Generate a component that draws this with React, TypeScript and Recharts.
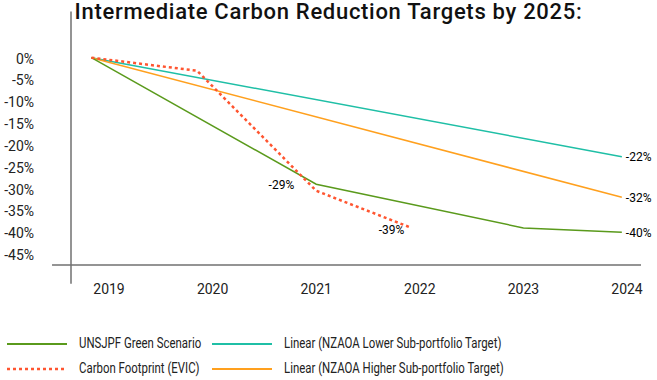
import { LineChart, Line, XAxis, YAxis, ReferenceLine, LabelList } from "recharts"

document.body.style.margin = "0"

// x positions of the plotted points (fractional years, as drawn in the source)
const pointYears = [2018.83, 2019.85, 2021.0, 2021.92, 2023.0, 2023.95]
const yearTicks = [2019, 2020, 2021, 2022, 2023, 2024]
const percentTicks = [0, -5, -10, -15, -20, -25, -30, -35, -40, -45]

const greenScenario = [0, null, -29, null, -39, -40]
const carbonFootprint = [0, -3, -30.5, -39, null, null]
const lowerTarget = [0, null, null, null, null, -22.7]
const higherTarget = [0, null, null, null, null, -32]

const greenLeftLabels = ["", "", "-29%", "", "", ""]
const greenRightLabels = ["", "", "", "", "", "-40%"]
const footprintLabels = ["", "", "", "-39%", "", ""]
const lowerLabels = ["", "", "", "", "", "-22%"]
const higherLabels = ["", "", "", "", "", "-32%"]

const data = pointYears.map((year, i) => ({
  year,
  green: greenScenario[i],
  footprint: carbonFootprint[i],
  lower: lowerTarget[i],
  higher: higherTarget[i],
  greenLeft: greenLeftLabels[i],
  greenRight: greenRightLabels[i],
  footprintLabel: footprintLabels[i],
  lowerLabel: lowerLabels[i],
  higherLabel: higherLabels[i],
}))

const GREEN = "#5a9a1c"
const TEAL = "#1fbfa6"
const ORANGE = "#ffa01e"
const RED = "#ff5530"
const AXIS = "#707070"

const legendItems = [
  { name: "UNSJPF Green Scenario", color: GREEN, dashed: false },
  { name: "Linear (NZAOA Lower Sub-portfolio Target)", color: TEAL, dashed: false },
  { name: "Carbon Footprint (EVIC)", color: RED, dashed: true },
  { name: "Linear (NZAOA Higher Sub-portfolio Target)", color: ORANGE, dashed: false },
]

function ChartLegend() {
  return (
    <div
      style={{
        position: "absolute",
        left: 7,
        top: 331,
        display: "grid",
        gridTemplateColumns: "205px 430px",
        fontFamily: "Roboto",
        fontSize: 14,
        lineHeight: "25px",
        color: "#222",
        whiteSpace: "nowrap",
      }}
    >
      {legendItems.map((item) => (
        <div key={item.name} style={{ display: "flex", alignItems: "center", height: 25 }}>
          <svg width={72} height={10} style={{ flex: "none" }}>
            <line
              x1={0}
              y1={5}
              x2={60}
              y2={5}
              stroke={item.color}
              strokeWidth={item.dashed ? 2.5 : 2}
              strokeDasharray={item.dashed ? "3 3" : undefined}
            />
          </svg>
          <span style={{ display: "inline-block", transform: "scaleX(0.815)", transformOrigin: "left center" }}>
            {item.name}
          </span>
        </div>
      ))}
    </div>
  )
}

const labelStyle = { fontFamily: "Roboto", fontSize: 12, fill: "#000" }

export default function App() {
  return (
    <div style={{ position: "relative", width: 657, height: 380, background: "#fff" }}>
      <LineChart
        width={657}
        height={380}
        data={data}
        margin={{ top: 14, right: 16, bottom: 0, left: 0 }}
        style={{ position: "absolute", top: 0, left: 0 }}
      >
        <XAxis
          type="number"
          dataKey="year"
          domain={[2018.633, 2024.135]}
          ticks={yearTicks}
          allowDataOverflow
          axisLine={false}
          tickLine={false}
          tickSize={0}
          tickMargin={19}
          tick={{ fontFamily: "Roboto", fontSize: 14, fill: "#222" }}
          height={115}
        />
        <YAxis
          type="number"
          domain={[-47.5, 10]}
          ticks={percentTicks}
          allowDataOverflow
          axisLine={false}
          tickLine={false}
          tickSize={0}
          tickMargin={37}
          width={71}
          tickFormatter={(v) => `${v}%`}
          tick={{ fontFamily: "Roboto", fontSize: 14, fill: "#222", dy: 1 }}
        />
        <ReferenceLine
          segment={[{ x: 2018.633, y: 10.6 }, { x: 2018.633, y: -51.8 }]}
          stroke={AXIS}
          strokeWidth={1.5}
          ifOverflow="visible"
        />
        <ReferenceLine
          segment={[{ x: 2018.45, y: -47.5 }, { x: 2024.135, y: -47.5 }]}
          stroke={AXIS}
          strokeWidth={1.5}
          ifOverflow="visible"
        />
        <Line
          dataKey="lower"
          stroke={TEAL}
          strokeWidth={1.5}
          dot={false}
          connectNulls
          isAnimationActive={false}
        >
          <LabelList dataKey="lowerLabel" position="right" offset={4} style={labelStyle} />
        </Line>
        <Line
          dataKey="higher"
          stroke={ORANGE}
          strokeWidth={1.5}
          dot={false}
          connectNulls
          isAnimationActive={false}
        >
          <LabelList dataKey="higherLabel" position="right" offset={4} style={labelStyle} />
        </Line>
        <Line
          dataKey="green"
          stroke={GREEN}
          strokeWidth={1.5}
          dot={false}
          connectNulls
          isAnimationActive={false}
        >
          <LabelList dataKey="greenLeft" position="left" offset={22} style={labelStyle} />
          <LabelList dataKey="greenRight" position="right" offset={4} style={labelStyle} />
        </Line>
        <Line
          dataKey="footprint"
          stroke={RED}
          strokeWidth={2.5}
          strokeDasharray="3 3"
          dot={false}
          isAnimationActive={false}
        >
          <LabelList dataKey="footprintLabel" position="bottom" offset={-2} dx={-20} style={labelStyle} />
        </Line>
      </LineChart>
      <div
        style={{
          position: "absolute",
          top: 2,
          left: 0,
          width: 657,
          textAlign: "center",
          fontFamily: "Roboto",
          fontWeight: 500,
          fontSize: 22,
          letterSpacing: 0.7,
          lineHeight: "20px",
          color: "#111",
        }}
      >
        Intermediate Carbon Reduction Targets by 2025:
      </div>
      <ChartLegend />
    </div>
  )
}
